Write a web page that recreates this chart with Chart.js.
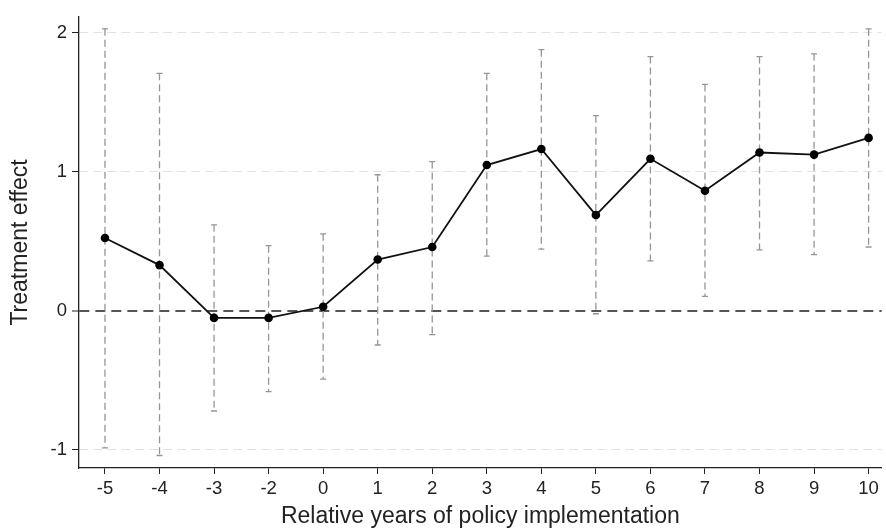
<!DOCTYPE html>
<html>
<head>
<meta charset="utf-8">
<script src="https://cdn.jsdelivr.net/npm/chart.js@4.4.1/dist/chart.umd.min.js"></script>
<style>
    body { margin: 0; background: #ffffff; }
    #wrap { width: 886px; height: 530px; }
</style>
</head>
<body>
<div id="wrap"><canvas id="eventChart"></canvas></div>
<script>
// Relative years (no -1, reference year)
const years = ['-5', '-4', '-3', '-2', '0', '1', '2', '3', '4', '5', '6', '7', '8', '9', '10'];

// Point estimates
const effect = [0.525, 0.33, -0.05, -0.05, 0.03, 0.37, 0.46, 1.05, 1.165, 0.69, 1.095, 0.865, 1.14, 1.125, 1.245];

// Confidence intervals
const ciUpper = [2.03, 1.71, 0.62, 0.47, 0.555, 0.98, 1.075, 1.71, 1.88, 1.405, 1.83, 1.63, 1.83, 1.85, 2.03];
const ciLower = [-0.985, -1.04, -0.72, -0.58, -0.49, -0.245, -0.17, 0.395, 0.445, -0.02, 0.36, 0.105, 0.44, 0.405, 0.46];

// Y axis ticks
const yTicks = [-1, 0, 1, 2];

const fontFamily = "'Liberation Sans', Arial, sans-serif";

// Plugin: dashed error bars with small caps, drawn under the line
const errorBarPlugin = {
    id: 'errorBars',
    beforeDatasetsDraw(chart) {
        const ctx = chart.ctx;
        const xScale = chart.scales.x;
        const yScale = chart.scales.y;
        ctx.save();
        ctx.strokeStyle = '#969696';
        ctx.lineWidth = 1.3;
        years.forEach((label, i) => {
            const x = xScale.getPixelForValue(i);
            const yTop = yScale.getPixelForValue(ciUpper[i]);
            const yBot = yScale.getPixelForValue(ciLower[i]);
            // vertical dashed line
            ctx.setLineDash([7, 4]);
            ctx.beginPath();
            ctx.moveTo(x, yTop);
            ctx.lineTo(x, yBot);
            ctx.stroke();
            // caps
            ctx.setLineDash([]);
            ctx.beginPath();
            ctx.moveTo(x - 3, yTop);
            ctx.lineTo(x + 3, yTop);
            ctx.moveTo(x - 3, yBot);
            ctx.lineTo(x + 3, yBot);
            ctx.stroke();
        });
        ctx.restore();
    }
};

const ctx = document.getElementById('eventChart').getContext('2d');
new Chart(ctx, {
    type: 'line',
    data: {
        datasets: [{
            label: 'Treatment effect',
            data: effect.map((v, i) => ({ x: i, y: v })),
            borderColor: '#111111',
            borderWidth: 1.8,
            backgroundColor: '#111111',
            pointRadius: 4.3,
            pointBackgroundColor: '#000000',
            pointBorderWidth: 0,
            tension: 0
        }]
    },
    options: {
        responsive: true,
        maintainAspectRatio: false,
        animation: false,
        layout: {
            padding: { top: 17, right: 0, left: 0, bottom: 0 }
        },
        plugins: {
            legend: { display: false },
            tooltip: { enabled: false }
        },
        scales: {
            x: {
                type: 'linear',
                min: -0.476,
                max: 14.24,
                afterBuildTicks: scale => {
                    scale.ticks = years.map((y, i) => ({ value: i }));
                },
                afterFit: scale => { scale.height = 62; },
                grid: {
                    drawOnChartArea: false,
                    drawTicks: true,
                    tickLength: 6,
                    tickColor: '#222222',
                    tickWidth: 1
                },
                border: { display: true, color: '#222222', width: 1.3 },
                ticks: {
                    color: '#222222',
                    padding: 4,
                    font: { family: fontFamily, size: 18.5 },
                    maxRotation: 0,
                    autoSkip: false,
                    callback: (value) => years[value]
                },
                title: {
                    display: true,
                    text: 'Relative years of policy implementation',
                    color: '#222222',
                    font: { family: fontFamily, size: 23 },
                    padding: { top: 0, bottom: 0 }
                }
            },
            y: {
                type: 'linear',
                min: -1.13,
                max: 2.115,
                afterBuildTicks: scale => {
                    scale.ticks = yTicks.map(v => ({ value: v }));
                },
                afterFit: scale => { scale.width = 79; },
                grid: {
                    color: c => (c.tick && c.tick.value === 0) ? '#555555' : '#e2e2e2',
                    lineWidth: c => (c.tick && c.tick.value === 0) ? 2 : 1,
                    drawTicks: true,
                    tickLength: 7,
                    tickColor: '#222222',
                    tickWidth: 1
                },
                border: {
                    display: true,
                    color: '#222222',
                    width: 1.3,
                    dash: c => (c.tick && c.tick.value === 0) ? [10, 6] : [9, 5]
                },
                ticks: {
                    color: '#222222',
                    padding: 5,
                    font: { family: fontFamily, size: 18.5 },
                    callback: (value) => String(value)
                },
                title: {
                    display: true,
                    text: 'Treatment effect',
                    color: '#222222',
                    font: { family: fontFamily, size: 23 },
                    padding: { top: 7, bottom: 4 }
                }
            }
        }
    },
    plugins: [errorBarPlugin]
});
</script>
</body>
</html>
